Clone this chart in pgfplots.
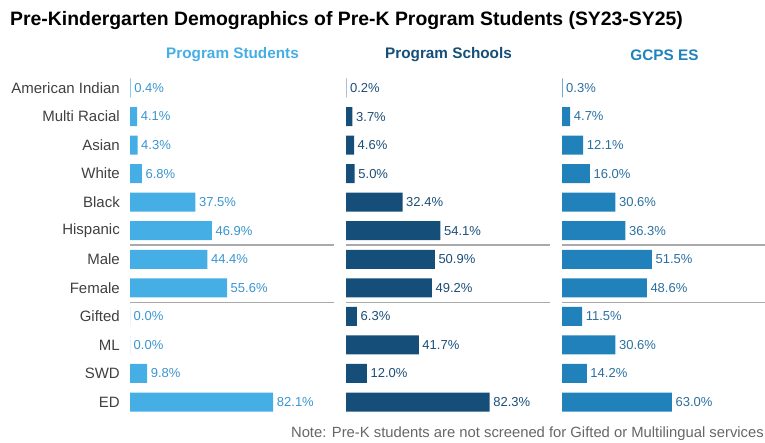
\documentclass[border=0pt]{standalone}
\usepackage{pgfplots}
\pgfplotsset{compat=1.18}
\usepackage{pgfplotstable}
\usepackage{fontspec}
\setmainfont{Liberation Sans}

\definecolor{cStu}{HTML}{45AEE5}
\definecolor{cSch}{HTML}{154E78}
\definecolor{cEs}{HTML}{2182BB}
\definecolor{lStu}{HTML}{3A95CF}
\definecolor{lSch}{HTML}{1C4E77}
\definecolor{lEs}{HTML}{2B6FA0}
\definecolor{catgray}{HTML}{404040}
\definecolor{sepgray}{HTML}{AAAAAA}

\pgfplotstableread[col sep=comma]{
idx,cat,stu,sch,es
0,American Indian,0.4,0.2,0.3
1,Multi Racial,4.1,3.7,4.7
2,Asian,4.3,4.6,12.1
3,White,6.8,5.0,16.0
4,Black,37.5,32.4,30.6
5,Hispanic,46.9,54.1,36.3
6,Male,44.4,50.9,51.5
7,Female,55.6,49.2,48.6
8,Gifted,0.0,6.3,11.5
9,ML,0.0,41.7,30.6
10,SWD,9.8,12.0,14.2
11,ED,82.1,82.3,63.0
}\demo

\pgfplotsset{
  panel/.style={
    scale only axis, width=205pt, height=342.6pt,
    xmin=0, xmax=117.5, ymin=-0.5, ymax=11.5, y dir=reverse,
    axis line style={draw=none}, major tick length=0pt,
    xtick=\empty, ytick=\empty, clip=false, anchor=north west,
  },
  bars/.style={
    xbar, bar width=19pt, fill=#1, draw=none, point meta=x,
    nodes near coords={\pgfmathprintnumber[fixed,fixed zerofill,precision=1,assume math mode=true]{\pgfplotspointmeta}\%},
    nodes near coords style={anchor=west, inner sep=0pt, xshift=3.5pt,
      font=\fontsize{13}{15}\selectfont},
  },
}

\begin{document}
\begin{tikzpicture}
\useasboundingbox (0pt,0pt) rectangle (765pt,442pt);

\node[anchor=west, inner sep=0pt, font=\bfseries\fontsize{19.4}{22}\selectfont] at (10pt,421pt) {Pre-Kindergarten Demographics of Pre-K Program Students (SY23-SY25)};

\node[font=\bfseries\fontsize{15.3}{18}\selectfont, text=cStu] at (232.5pt,387pt) {Program Students};
\node[font=\bfseries\fontsize{15.3}{18}\selectfont, text=cSch] at (448.5pt,387pt) {Program Schools};
\node[font=\bfseries\fontsize{15.3}{18}\selectfont, text=cEs] at (664.5pt,387pt) {GCPS ES};

% Program Students
\begin{axis}[panel, at={(130pt,368.3pt)},
  ytick={0,...,11}, yticklabels from table={\demo}{cat},
  yticklabel style={font=\fontsize{15}{18}\selectfont, text=catgray, inner xsep=0pt, xshift=-10pt}]
\addplot[bars=cStu, nodes near coords style={text=lStu}] table[x=stu, y=idx]{\demo};
\addplot[sepgray, line width=1.2pt] coordinates {(0,5.5) (117,5.5)};
\addplot[sepgray, line width=1.2pt] coordinates {(0,7.5) (117,7.5)};
\end{axis}

% Program Schools
\begin{axis}[panel, at={(346pt,368.3pt)}]
\addplot[bars=cSch, nodes near coords style={text=lSch}] table[x=sch, y=idx]{\demo};
\addplot[sepgray, line width=1.2pt] coordinates {(0,5.5) (117,5.5)};
\addplot[sepgray, line width=1.2pt] coordinates {(0,7.5) (117,7.5)};
\end{axis}

% GCPS ES
\begin{axis}[panel, at={(562pt,368.3pt)}]
\addplot[bars=cEs, nodes near coords style={text=lEs}] table[x=es, y=idx]{\demo};
\addplot[sepgray, line width=1.2pt] coordinates {(0,5.5) (117.5,5.5)};
\addplot[sepgray, line width=1.2pt] coordinates {(0,7.5) (117.5,7.5)};
\end{axis}

\node[anchor=east, font=\fontsize{14.8}{18}\selectfont, text=catgray!80, inner sep=0pt] at (764pt,8pt) {Note: Pre-K students are not screened for Gifted or Multilingual services};
\end{tikzpicture}
\end{document}
